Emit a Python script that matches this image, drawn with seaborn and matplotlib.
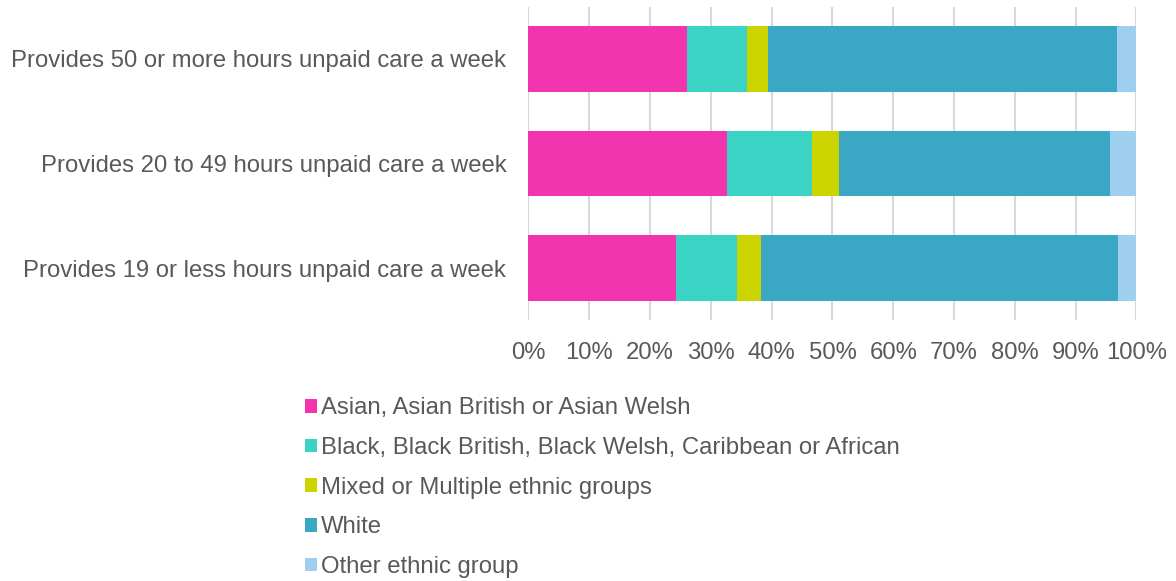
import matplotlib.pyplot as plt
import numpy as np
import pandas as pd
import seaborn as sns
from matplotlib.patches import Patch

# Bars, top to bottom
categories = [
    "Provides 50 or more hours unpaid care a week",
    "Provides 20 to 49 hours unpaid care a week",
    "Provides 19 or less hours unpaid care a week",
]

# Ethnic group shares (%) per category
groups = [
    "Asian, Asian British or Asian Welsh",
    "Black, Black British, Black Welsh, Caribbean or African",
    "Mixed or Multiple ethnic groups",
    "White",
    "Other ethnic group",
]
asian = [26.1, 32.6, 24.3]
black = [9.8, 14.0, 10.0]
mixed = [3.5, 4.4, 3.9]
white = [57.4, 44.7, 58.8]
other = [3.2, 4.3, 3.0]

colors = ["#F234AE", "#3AD3C4", "#CCD400", "#3AA8C4", "#9FCFEE"]
text_color = "#595959"

sns.set_theme(style="white")
plt.rcParams["font.family"] = ["Liberation Sans", "DejaVu Sans"]

values = np.array([asian, black, mixed, white, other])
cumulative = np.cumsum(values, axis=0)

fig = plt.figure(figsize=(11.76, 5.81), dpi=100)
ax = fig.add_axes([0.4494, 0.4484, 0.517, 0.5404])

# draw the longest (cumulative) bar first so shorter segments sit on top
for i in reversed(range(len(groups))):
    df = pd.DataFrame({"category": categories, "value": cumulative[i]})
    sns.barplot(
        data=df, x="value", y="category", orient="h",
        color=colors[i], width=0.63, saturation=1, ax=ax,
        edgecolor="none", linewidth=0, zorder=3,
    )

ax.set_xlim(0, 100)
ax.set_ylim(2.5, -0.5)
ax.set_xticks(np.arange(0, 101, 10))
ax.set_xticklabels([f"{t}%" for t in range(0, 101, 10)])
ax.set_xlabel("")
ax.set_ylabel("")
ax.grid(axis="x", color="#D9D9D9", linewidth=1.5, zorder=0)
ax.grid(axis="y", visible=False)
for spine in ax.spines.values():
    spine.set_visible(False)
ax.tick_params(axis="both", length=0, labelsize=17.2, labelcolor=text_color)
ax.tick_params(axis="x", pad=15.5)
ax.tick_params(axis="y", pad=16)

handles = [Patch(facecolor=c, edgecolor="none") for c in colors]
fig.legend(
    handles, groups, loc="upper left", bbox_to_anchor=(0.259, 0.316),
    frameon=False, fontsize=17.2, labelcolor=text_color,
    handlelength=0.5, handleheight=0.5, handletextpad=0.2,
    labelspacing=0.74, borderpad=0, borderaxespad=0,
)

fig.savefig("out.png", dpi=100)
